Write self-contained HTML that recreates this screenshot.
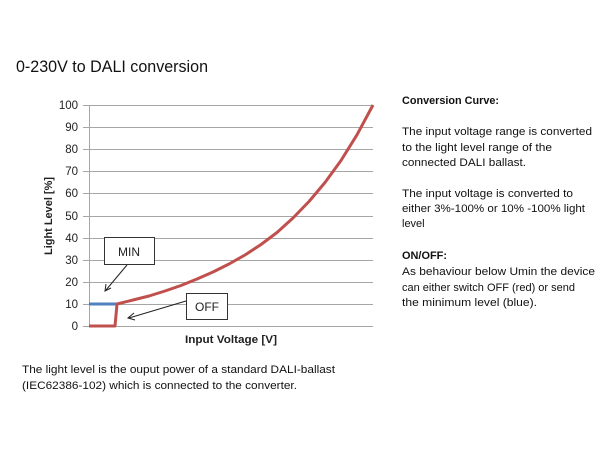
<!DOCTYPE html>
<html><head><meta charset="utf-8"><style>body{margin:0;background:#fff}svg{display:block}</style></head><body>
<svg width="610" height="450" xmlns="http://www.w3.org/2000/svg" font-family="Liberation Sans, sans-serif">
<text x="16" y="72" font-size="17" textLength="192" lengthAdjust="spacingAndGlyphs" fill="#111">0-230V to DALI conversion</text>
<g stroke="#a6a6a6" stroke-width="1">
<line x1="83" y1="105.5" x2="373" y2="105.5"/><line x1="83" y1="127.5" x2="373" y2="127.5"/>
<line x1="83" y1="149.5" x2="373" y2="149.5"/><line x1="83" y1="171.5" x2="373" y2="171.5"/>
<line x1="83" y1="193.5" x2="373" y2="193.5"/><line x1="83" y1="216.5" x2="373" y2="216.5"/>
<line x1="83" y1="238.5" x2="373" y2="238.5"/><line x1="83" y1="260.5" x2="373" y2="260.5"/>
<line x1="83" y1="282.5" x2="373" y2="282.5"/><line x1="83" y1="304.5" x2="373" y2="304.5"/>
<line x1="83" y1="326.5" x2="373" y2="326.5"/><line x1="89.5" y1="105" x2="89.5" y2="327"/>
</g>
<g font-size="11.5" fill="#222" text-anchor="end">
<text x="78" y="109">100</text><text x="78" y="131">90</text><text x="78" y="153">80</text><text x="78" y="175">70</text><text x="78" y="197">60</text><text x="78" y="220">50</text><text x="78" y="242">40</text><text x="78" y="264">30</text><text x="78" y="286">20</text><text x="78" y="308">10</text><text x="78" y="330">0</text>
</g>
<text transform="translate(52,216) rotate(-90)" font-size="11" font-weight="bold" text-anchor="middle" fill="#222" textLength="78" lengthAdjust="spacingAndGlyphs">Light Level [%]</text>
<text x="231" y="343" font-size="11" font-weight="bold" text-anchor="middle" fill="#222" textLength="92" lengthAdjust="spacingAndGlyphs">Input Voltage [V]</text>
<line x1="89" y1="304" x2="117" y2="304" stroke="#4f81bd" stroke-width="3"/>
<polyline fill="none" stroke="#c0504d" stroke-width="3" stroke-linejoin="round" points="89,326 115,326 117,304 133,300 149,296 165,291 181,285.5 197,279 213,272 229,264 245,255 261,244.5 277,232.5 293,218 309,201.5 325,182.5 341,160.5 357,134.8 373,105"/>
<rect x="104.5" y="237.5" width="50" height="27" fill="#fff" stroke="#333"/>
<text x="129" y="256" font-size="12" text-anchor="middle" fill="#222">MIN</text>
<line x1="127" y1="265" x2="106" y2="290" stroke="#222"/><polyline points="106,284 105,291 111,288" fill="none" stroke="#222"/>
<rect x="186.5" y="293.5" width="41" height="26" fill="#fff" stroke="#333"/>
<text x="207" y="311" font-size="12" text-anchor="middle" fill="#222">OFF</text>
<line x1="186" y1="301" x2="129" y2="318" stroke="#222"/><polyline points="134,313 128,318 135,320" fill="none" stroke="#222"/>
<g font-size="11" fill="#111">
<text x="402" y="104" font-weight="bold" textLength="97" lengthAdjust="spacingAndGlyphs">Conversion Curve:</text>
<text x="402" y="135" textLength="190" lengthAdjust="spacingAndGlyphs">The input voltage range is converted</text>
<text x="402" y="151" textLength="150" lengthAdjust="spacingAndGlyphs">to the light level range of the</text>
<text x="402" y="166" textLength="124" lengthAdjust="spacingAndGlyphs">connected DALI ballast.</text>
<text x="402" y="197" textLength="171" lengthAdjust="spacingAndGlyphs">The input voltage is converted to</text>
<text x="402" y="212" textLength="183" lengthAdjust="spacingAndGlyphs">either 3%-100% or 10% -100% light</text>
<text x="402" y="227">level</text>
<text x="402" y="259" font-weight="bold" textLength="45" lengthAdjust="spacingAndGlyphs">ON/OFF:</text>
<text x="402" y="275" textLength="193" lengthAdjust="spacingAndGlyphs">As behaviour below Umin the device</text>
<text x="402" y="291" textLength="173" lengthAdjust="spacingAndGlyphs">can either switch OFF (red) or send</text>
<text x="402" y="306" textLength="135" lengthAdjust="spacingAndGlyphs">the minimum level (blue).</text>
<text x="22" y="373" textLength="313" lengthAdjust="spacingAndGlyphs">The light level is the ouput power of a standard DALI-ballast</text>
<text x="22" y="389" textLength="275" lengthAdjust="spacingAndGlyphs">(IEC62386-102) which is connected to the converter.</text>
</g>
</svg>
</body></html>
